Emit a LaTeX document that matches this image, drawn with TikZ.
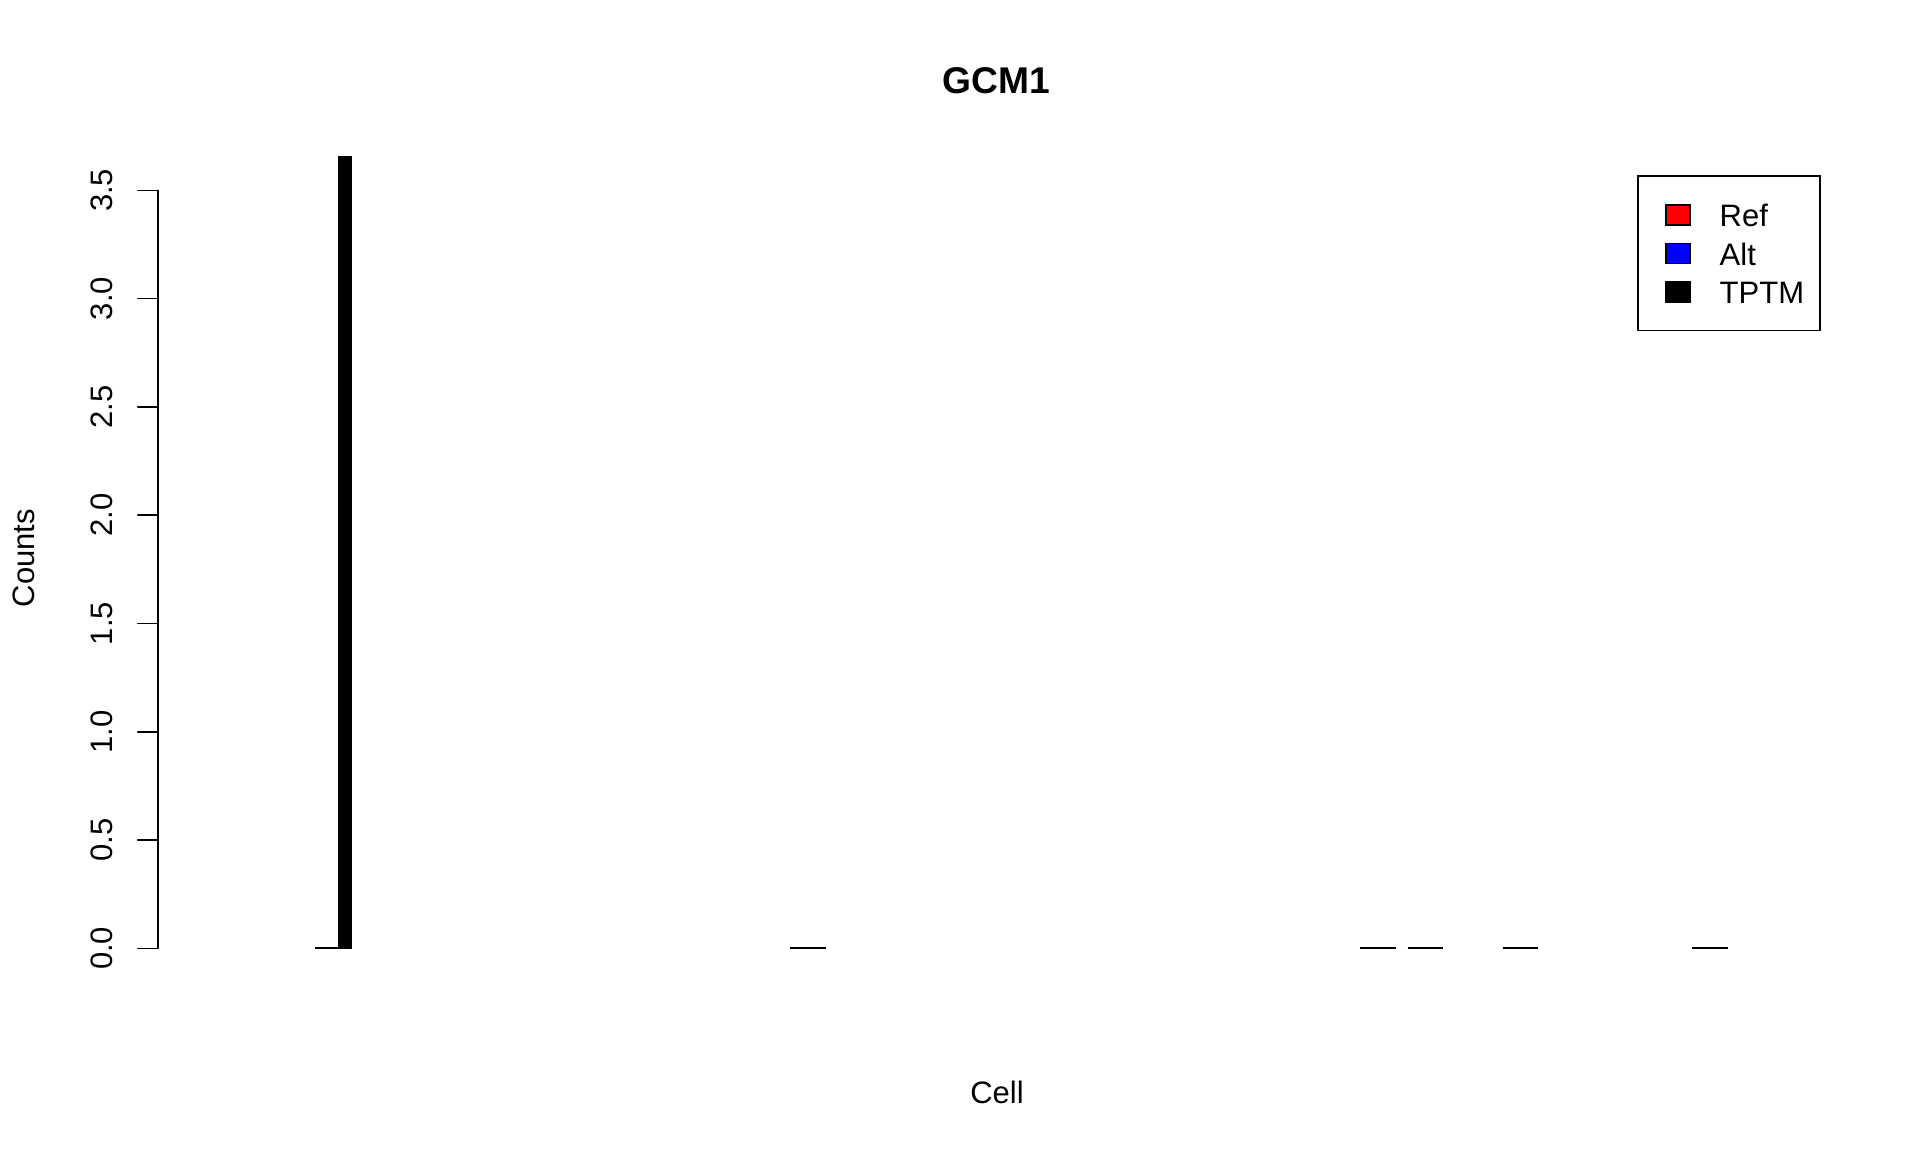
\documentclass[tikz,border=0pt]{standalone}
\usepackage{fontspec}
\setmainfont{Liberation Sans}
\begin{document}
\begin{tikzpicture}[x=0.5pt,y=-0.5pt,
  axisline/.style={line width=0.8pt, line cap=round},
  ticklab/.style={rotate=90, anchor=base, inner sep=0pt, font=\fontsize{15.5}{18}\selectfont},
  axlab/.style={inner sep=0pt, font=\fontsize{15.5}{18}\selectfont},
  titlelab/.style={inner sep=0pt, font=\fontsize{18.6}{21}\selectfont\bfseries},
  zerobar/.style={line width=1pt, line cap=butt},
  tptmbar/.style={fill=black, draw=black, line width=0.8pt},
  legbox/.style={line width=0.8pt},
  legkey/.style={draw=black, line width=0.7pt},
  legtext/.style={anchor=base west, inner sep=0pt, font=\fontsize{15.5}{18}\selectfont}
]
\useasboundingbox (0,0) rectangle (1920,1152);
\fill[white] (0,0) rectangle (1920,1152);

% title and axis labels
\node[titlelab, anchor=base] (title) at (996,93.3) {GCM1};
\node[axlab, anchor=base] (xlab) at (997,1103.3) {Cell};
\node[axlab, rotate=90, anchor=base] (ylab) at (34.3,558) {Counts};

% y axis
\coordinate (ybot) at (157.7,948.3);
\coordinate (ytop) at (157.7,190.3);
\draw[axisline] (ybot) -- (ytop);
\foreach \v/\t [count=\i] in {0/0.0,0.5/0.5,1/1.0,1.5/1.5,2/2.0,2.5/2.5,3/3.0,3.5/3.5}{
  \coordinate (tk\i) at (157.7,{948.3-216.57*\v});
  \draw[axisline] (tk\i) -- ++(-20,0);
  \node[ticklab] (tl\i) at (112.3,{948.3-216.57*\v}) {\t};
}

% bars (zero-height groups drawn as flat lines)
\foreach \g in {12,24,25,27,31}{
  \coordinate (g\g) at ({220.27+\g*47.49},948.3);
  \draw[zerobar] (g\g) -- ++(35.61,0);
}
\coordinate (g2) at ({220.27+2*47.49},948.3);
\draw[zerobar] (g2) -- ++(23.74,0);
\draw[tptmbar] ({220.27+2*47.49+23.74},948.3) rectangle ({220.27+2*47.49+35.61},156.5);

% legend
\draw[legbox] (1637.7,176) rectangle (1820,330.3);
\draw[legkey, fill=red] (1666,205) rectangle (1690,225);
\draw[legkey, fill=blue] (1666,243.5) rectangle (1690,263.5);
\draw[legkey, fill=black] (1666,282) rectangle (1690,302);
\node[legtext] (lref) at (1719.3,226.7) {Ref};
\node[legtext] (lalt) at (1719.3,265.2) {Alt};
\node[legtext] (ltptm) at (1719.3,303.7) {TPTM};
\end{tikzpicture}
\end{document}
